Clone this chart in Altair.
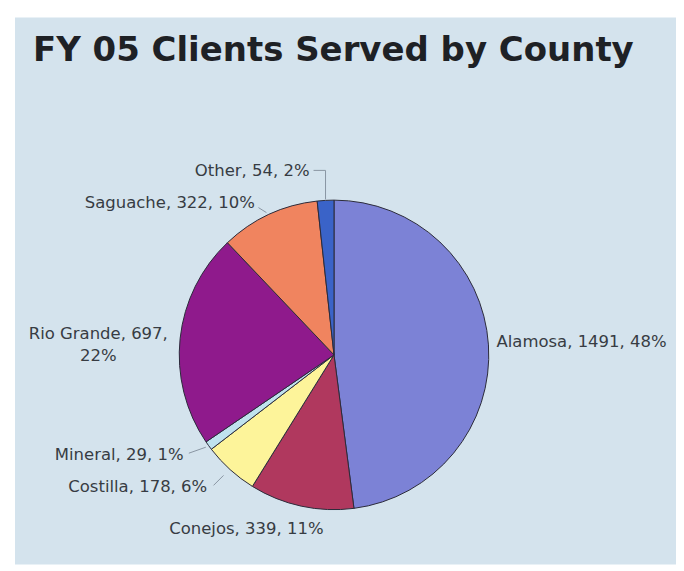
import math
import altair as alt
import pandas as pd

# ---- data ----
counties = ["Alamosa", "Conejos", "Costilla", "Mineral", "Rio Grande", "Saguache", "Other"]
clients = [1491, 339, 178, 29, 697, 322, 54]
percents = ["48%", "11%", "6%", "1%", "22%", "10%", "2%"]
colors = ["#7c82d6", "#b0385e", "#fdf49a", "#bfe2ee", "#8f1a8c", "#f0845f", "#3a63c8"]
title_text = "FY 05 Clients Served by County"

labels = [f"{c}, {v}, {p}" for c, v, p in zip(counties, clients, percents)]
labels[4] = ["Rio Grande, 697,", "22%"]

df = pd.DataFrame({"county": counties, "value": clients, "idx": list(range(len(counties))),
                   "label": [l if isinstance(l, str) else "\n".join(l) for l in labels]})

# ---- layout ----
W, H = 662, 548
CX, CY = 319.5, 338.0
R = 155
BG = "#d4e3ed"
TXT = "#373c43"

# label placement: (align, dx, dy) relative to the slice's mid angle at radius R
place = {
    "Alamosa": ("left", 8, -3),
    "Conejos": ("center", -55, 23),
    "Costilla": ("right", -23, 17),
    "Mineral": ("right", -25, 9),
    "Rio Grande": ("center", -82, -4),
    "Saguache": ("right", -14, -12),
    "Other": ("right", -16, -29),
}

base = alt.Chart(df)

pie = base.mark_arc(outerRadius=R, stroke="#2b2b3a", strokeWidth=1).encode(
    theta=alt.Theta("value:Q", stack=True),
    order=alt.Order("idx:Q"),
    color=alt.Color("county:N", scale=alt.Scale(domain=counties, range=colors), legend=None),
    x=alt.value(CX), y=alt.value(CY),
)

layers = [pie]
for name, (align, dx, dy) in place.items():
    layers.append(
        base.mark_text(radius=R, align=align, baseline="middle", dx=dx, dy=dy,
                       font="DejaVu Sans", fontSize=16.5, color=TXT, lineBreak="\n",
                       lineHeight=22).encode(
            theta=alt.Theta("value:Q", stack=True),
            order=alt.Order("idx:Q"),
            text=alt.condition(alt.datum.county == name, "label:N", alt.value("")),
            x=alt.value(CX), y=alt.value(CY),
        )
    )

# leader lines, derived from the slice mid angles
total = sum(clients)
cum = 0
mids = {}
for c, v in zip(counties, clients):
    mids[c] = (cum + v / 2) / total * 2 * math.pi
    cum += v

def edge(c, r):
    a = mids[c]
    return CX + r * math.sin(a), CY - r * math.cos(a)

leaders = {
    "Other": [(-12, -29), (0, -29), (0, 0)],
    "Saguache": [(-10, -6), (-2, -1)],
    "Mineral": [(-19, 7), (-2, 1)],
    "Costilla": [(-16, 15), (-6, 5)],
}
segs = []
for c, pts in leaders.items():
    ex, ey = edge(c, R + 1)
    for i in range(len(pts) - 1):
        segs.append({"x": ex + pts[i][0], "y": ey + pts[i][1],
                     "x2": ex + pts[i + 1][0], "y2": ey + pts[i + 1][1]})
seg_df = pd.DataFrame(segs)
lead = alt.Chart(seg_df).mark_rule(color="#8a96a3", strokeWidth=1).encode(
    x=alt.X("x:Q", scale=None), y=alt.Y("y:Q", scale=None),
    x2="x2:Q", y2="y2:Q",
)
layers.append(lead)

title = alt.Chart(pd.DataFrame({"t": [title_text]})).mark_text(
    align="left", baseline="alphabetic", font="DejaVu Sans", fontWeight="bold",
    fontSize=34, color="#1e2125",
).encode(text="t:N", x=alt.value(18), y=alt.value(44))
layers.append(title)

chart = alt.layer(*layers).properties(
    width=W, height=H, padding={"left": 7, "top": 9, "right": 0, "bottom": 0},
    background="white",
).configure_view(fill=BG, stroke=None)

chart.save("out.html", embed_options={"renderer": "svg", "actions": False})
